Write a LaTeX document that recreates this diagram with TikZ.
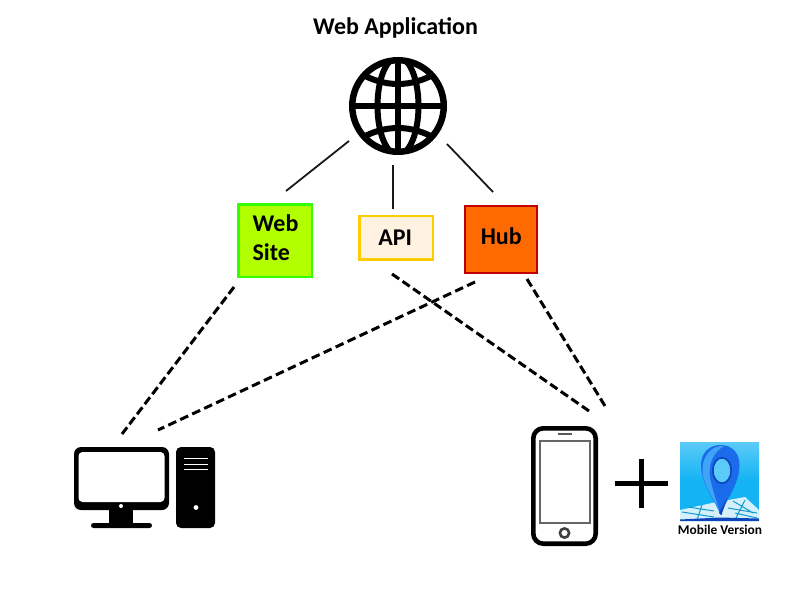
\documentclass[tikz,border=0pt]{standalone}
\usepackage{fontspec}
\setmainfont{Carlito}
\usetikzlibrary{shadings}
\definecolor{webfill}{HTML}{B2FF00}
\definecolor{webline}{HTML}{33FF00}
\definecolor{apifill}{HTML}{FFF2E0}
\definecolor{apiline}{HTML}{FFCC00}
\definecolor{hubfill}{HTML}{FF6A00}
\definecolor{hubline}{HTML}{C00000}
\definecolor{skyblue}{HTML}{14B4F4}
\definecolor{skytop}{HTML}{5CCBF8}
\definecolor{pinblue}{HTML}{1A6CEB}
\definecolor{pindark}{HTML}{0C44BC}
\definecolor{pinlight}{HTML}{3FA4F7}
\definecolor{maplight}{HTML}{D4F0FC}
\tikzset{
  box/.style={draw, line width=2.2pt, font=\bfseries\fontsize{24}{29.5}\selectfont, align=left, inner sep=0pt},
  solidlink/.style={line width=1.8pt, black!90},
  dashlink/.style={line width=3pt, black, dash pattern=on 8.7pt off #1},
  label/.style={font=\bfseries\fontsize{24}{28}\selectfont, inner sep=0pt},
  smalllabel/.style={font=\bfseries\fontsize{13.4}{15}\selectfont, inner sep=0pt},
  globeline/.style={line width=6pt, black},
  ink/.style={fill=black, draw=none},
  paper/.style={fill=white, draw=none}
}
\begin{document}
\begin{tikzpicture}[x=1pt,y=-1pt]
\useasboundingbox (0,0) rectangle (800,600);
\fill[white] (0,0) rectangle (800,600);
% title
\node[label] (title) at (395.5,28) {Web Application};
% globe
\node[circle, draw=black, line width=6.5pt, minimum size=91.5pt, inner sep=0pt] (globe) at (398,106) {};
\begin{scope}
  \clip (398,106) circle (47pt);
  \draw[globeline] (398,57) -- (398,155);
  \draw[globeline] (349,106) -- (447,106);
  \draw[globeline] (398,106) ellipse (20.5pt and 49pt);
  \draw[globeline] (358,72) .. controls (384,88) and (412,88) .. (438,72);
  \draw[globeline] (358,140) .. controls (384,124) and (412,124) .. (438,140);
\end{scope}
% boxes
\node[box, fill=webfill, draw=webline, minimum width=73.2pt, minimum height=72.8pt, text depth=6pt] (web) at (275,240.8) {\hspace{1pt}Web\\\hspace{1pt}Site};
\node[box, fill=apifill, draw=apiline, minimum width=73.4pt, minimum height=43.5pt] (api) at (396.2,237.8) {\hspace{-2pt}API};
\node[box, fill=hubfill, draw=hubline, minimum width=72pt, minimum height=66.8pt] (hub) at (501.2,239.5) {\raisebox{7pt}{Hub}};
% connector ends
\coordinate (g1) at (349,141);
\coordinate (g2) at (393,165);
\coordinate (g3) at (447,144);
\coordinate (w1) at (286,191);
\coordinate (a1) at (393,209);
\coordinate (h1) at (493,192);
\coordinate (w2) at (234,287);
\coordinate (a2) at (392,274);
\coordinate (h2) at (475,282);
\coordinate (h3) at (527,279);
\coordinate (c1) at (122,434);
\coordinate (c2) at (158,430);
\coordinate (m1) at (589,411);
\coordinate (m2) at (605,406);
\draw[solidlink] (g1) -- (w1);
\draw[solidlink] (g2) -- (a1);
\draw[solidlink] (g3) -- (h1);
\draw[dashlink=3.9pt] (w2) -- (c1);
\draw[dashlink=4.49pt] (h2) -- (c2);
\draw[dashlink=4.15pt] (a2) -- (m1);
\draw[dashlink=4.05pt] (h3) -- (m2);
% desktop
\fill[ink, rounded corners=7pt] (74,447) rectangle (169,510);
\fill[paper, rounded corners=4pt] (78.5,452) rectangle (164.5,502);
\fill[white] (121,506) circle (2pt);
\fill[ink] (109,510) rectangle (133,525);
\fill[ink, rounded corners=2.5pt] (91,523) rectangle (152,528);
\fill[ink, rounded corners=5pt] (176,447) rectangle (215,528);
\draw[white, line width=0.9pt] (184,458.5) -- (208,458.5) (184,464) -- (208,464) (184,469.5) -- (208,469.5);
\fill[white] (196,507.5) circle (2.4pt);
% phone
\draw[black, line width=4.6pt, rounded corners=10pt] (533.3,428.3) rectangle (595.7,543.7);
\draw[black!60, line width=2pt] (540,440.5) rectangle (590,523);
\draw[black!65, line width=2pt] (558,434.3) -- (572,434.3);
\draw[black!75, line width=2.6pt] (564.5,533) circle (4.6pt);
% plus
\draw[black, line width=5pt] (615,483.5) -- (668,483.5) (641.5,459) -- (641.5,508);
% map icon
\begin{scope}
  \clip (680,442) rectangle (759,521);
  \fill[top color=skytop, bottom color=skyblue] (680,442) rectangle (759,480);
  \fill[skyblue] (680,480) rectangle (759,521);
  \fill[maplight] (680,510) -- (712,503) -- (745,497) -- (759,510) -- (759,521) -- (680,521) -- cycle;
  \draw[skyblue!85!black, line width=1pt] (682,512) -- (714,517) (688,507) -- (714,511) (728,508) -- (757,513) (733,501) -- (753,513) (702,505) -- (697,520) (745,500) -- (735,520) (735,513) -- (757,518);
  \fill[pindark] (680,519.5) -- (720,517.5) -- (759,518.5) -- (759,521) -- (680,521) -- cycle;
  \path[fill=pinblue] (720.5,515) .. controls (715,500) and (701,484) .. (701,465)
     .. controls (701,452) and (710,445) .. (720.5,445)
     .. controls (732,445) and (739.5,453) .. (739.5,465)
     .. controls (739.5,484) and (726,500) .. (720.5,515) -- cycle;
  \path[fill=pinlight] (703,476) .. controls (700,456) and (712,445) .. (724,446)
     .. controls (714,452) and (708,462) .. (710,478) .. controls (712,488) and (716,500) .. (719,510)
     .. controls (713,498) and (706,488) .. (703,476) -- cycle;
  \fill[pindark] (719,513) -- (727,498) -- (721.5,515) -- cycle;
  \fill[skyblue!70!white] (722,470.5) ellipse (8.5pt and 12pt);
  \draw[pindark, line width=1.6pt] (722,470.5) ellipse (9.2pt and 12.8pt);
\end{scope}
\node[smalllabel] (mobile) at (720,530) {Mobile Version};
\end{tikzpicture}
\end{document}
